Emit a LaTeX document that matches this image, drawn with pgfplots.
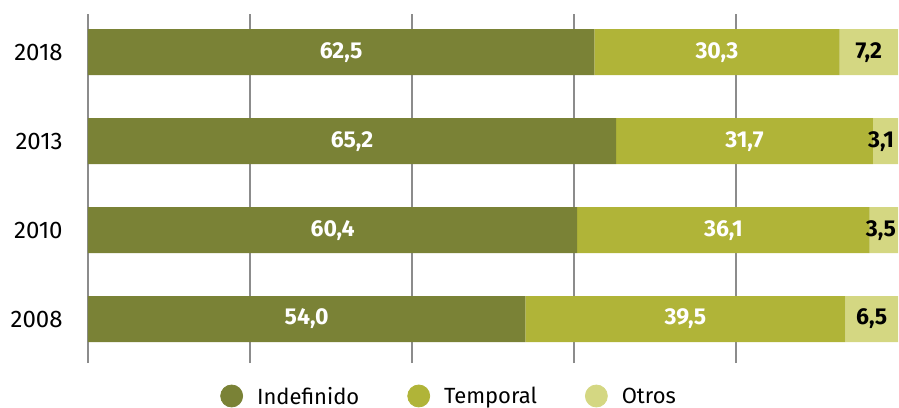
\documentclass[border=0pt]{standalone}
\usepackage{pgfplots}
\pgfplotsset{compat=1.18}
\usepackage{fontspec}
\setmainfont{Fira Sans}
\definecolor{cIndef}{HTML}{7A8236}
\definecolor{cTemp}{HTML}{B0B438}
\definecolor{cOtros}{HTML}{D4D782}
\newcommand\cf{\fontsize{11.5}{13.8}\selectfont}
\newcommand\lf{\fontsize{11}{13.2}\selectfont}
\newcommand\yf{\fontsize{12}{14.4}\selectfont}
\pgfplotsset{
  frame/.style={
    scale only axis,
    width=405pt, height=174.5pt,
    xmin=0, xmax=100,
    ymin=-0.494, ymax=3.43,
  },
}
\begin{document}
\begin{tikzpicture}
\begin{axis}[
  frame,
  xbar stacked, bar width=23pt,
  xtick={0,20,40,60,80}, xticklabels={},
  ytick={0,1,2,3}, yticklabels={2008,2010,2013,2018},
  yticklabel style={font=\yf, inner sep=0pt, xshift=-12.5pt},
  tick style={draw=none},
  axis line style={draw=none},
  xmajorgrids, grid style={line width=1pt, color=black!45},
  legend columns=3,
  legend style={
    at={(0.447,-0.0974)}, anchor=center,
    draw=none, fill=none, font=\lf,
    /tikz/every even column/.append style={column sep=22pt},
    /tikz/every odd column/.append style={column sep=5pt},
  },
]
% legend markers (filled circles)
\addlegendimage{legend image code/.code={\fill[cIndef] (0pt,0.5pt) circle (5.5pt);}}
\addlegendimage{legend image code/.code={\fill[cTemp] (0pt,0.5pt) circle (5.5pt);}}
\addlegendimage{legend image code/.code={\fill[cOtros] (0pt,0.5pt) circle (5.5pt);}}

% Indefinido
\addplot[fill=cIndef, draw=none] coordinates {
  (54.0,0) (60.4,1) (65.2,2) (62.5,3)
};
% Temporal
\addplot[fill=cTemp, draw=none] coordinates {
  (39.5,0) (36.1,1) (31.7,2) (30.3,3)
};
% Otros
\addplot[fill=cOtros, draw=none] coordinates {
  (6.5,0) (3.5,1) (3.1,2) (7.2,3)
};
\legend{Indefinido, Temporal, Otros}
\end{axis}

% value labels, centred in each segment
\begin{axis}[
  frame,
  hide axis,
  nodes near coords,
  point meta=explicit symbolic,
  every node near coord/.append style={font=\cf\bfseries, anchor=center},
]
\addplot[draw=none, mark=none, nodes near coords style={text=white}] coordinates {
  (27.00,0) [54,0]
  (30.20,1) [60,4]
  (32.60,2) [65,2]
  (31.25,3) [62,5]
};
\addplot[draw=none, mark=none, nodes near coords style={text=white}] coordinates {
  (73.75,0) [39,5]
  (78.45,1) [36,1]
  (81.05,2) [31,7]
  (77.65,3) [30,3]
};
\addplot[draw=none, mark=none, nodes near coords style={text=black}] coordinates {
  (96.75,0) [6,5]
  (97.90,1) [3,5]
  (97.90,2) [3,1]
  (96.40,3) [7,2]
};
\end{axis}
\pgfresetboundingbox
\useasboundingbox (-44pt,-22pt) rectangle (405.5pt,181.5pt);
\end{tikzpicture}
\end{document}
